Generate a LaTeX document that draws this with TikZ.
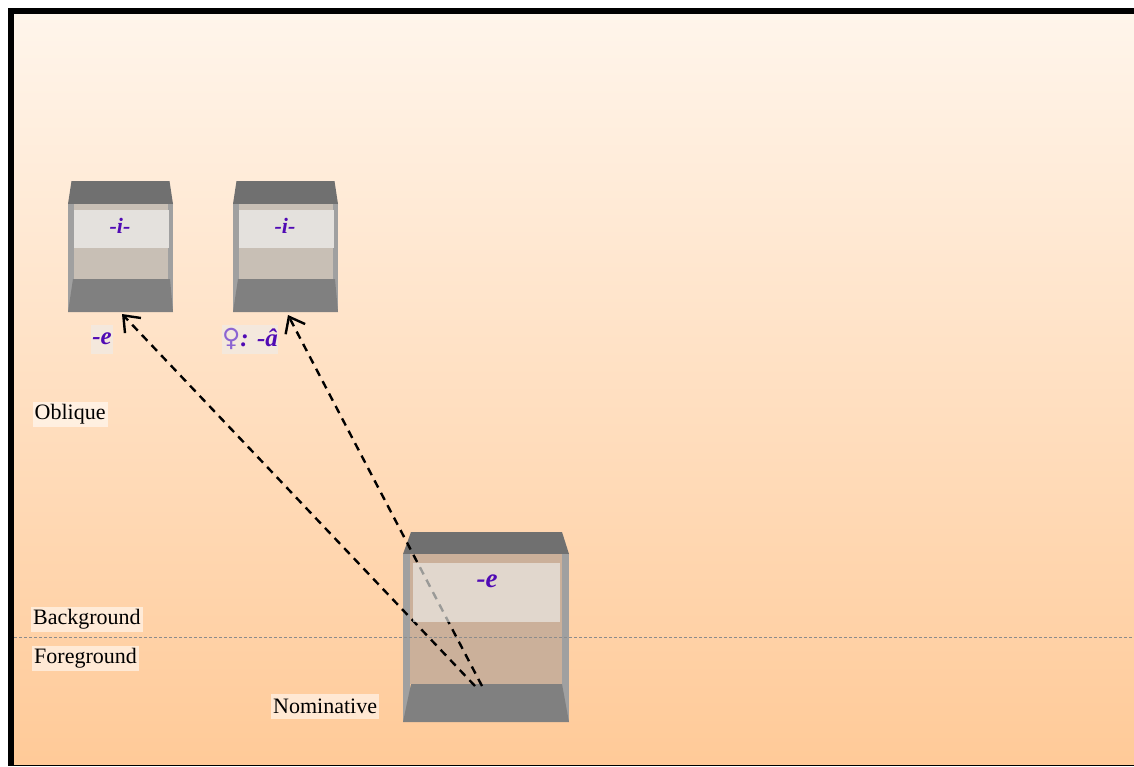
\documentclass[tikz,border=0pt]{standalone}
\usepackage{fontspec}
\setmainfont{Liberation Serif}
\newfontfamily\symfont{DejaVu Sans}
\usetikzlibrary{arrows.meta}
\definecolor{bgtop}{RGB}{255,245,235}
\definecolor{bgbot}{RGB}{255,202,152}
\definecolor{purp}{RGB}{80,10,180}
\definecolor{lpurp}{RGB}{140,100,210}
\definecolor{capgray}{RGB}{112,112,112}
\definecolor{basegray}{RGB}{128,128,128}
\definecolor{wallgray}{RGB}{160,160,160}
\definecolor{beigeS}{RGB}{200,191,181}
\definecolor{panelS}{RGB}{228,225,221}
\definecolor{beigeB}{RGB}{203,176,154}
\definecolor{panelB}{RGB}{238,237,233}
\definecolor{tagfill}{RGB}{238,236,236}
\definecolor{dotgray}{RGB}{140,140,140}
\newcommand\smallcube[2]{%
  \begin{scope}[shift={(#1,0)}]
    \fill[capgray] (3.5,181) -- (101.5,181) -- (105,204) -- (0,204) -- cycle;
    \fill[wallgray] (0,204) rectangle (6,312);
    \fill[wallgray] (100,204) rectangle (105,312);
    \fill[beigeS] (6,204) rectangle (100,279);
    \fill[panelS] (6,210) rectangle (100.5,248);
    \fill[basegray] (5,279) -- (102,279) -- (105,312) -- (0,312) -- cycle;
    \node[morph, font=\morphsmall] (#2) at (52,226) {-i-};
  \end{scope}}
\newcommand\morphsmall{\fontsize{22}{26}\selectfont\bfseries\itshape}
\newcommand\morphmid{\fontsize{25}{29}\selectfont\bfseries\itshape}
\newcommand\morphbig{\fontsize{27}{31}\selectfont\bfseries\itshape}
\begin{document}
\begin{tikzpicture}[x=1pt,y=-1pt,
  lab/.style={anchor=west, fill=white, fill opacity=0.55, text opacity=1,
    inner xsep=2pt, inner ysep=0pt, minimum height=25pt,
    font=\fontsize{22}{25}\selectfont},
  morph/.style={text=purp, inner sep=0pt},
  tag/.style={fill=tagfill, fill opacity=0.6, text opacity=1, inner sep=0pt,
    minimum height=29pt, text=purp, font=\morphmid},
  darr/.style={draw=black, line width=2.4pt, dash pattern=on 8pt off 6pt,
    -{Straight Barb[length=14pt,width=22pt]}}]
\useasboundingbox (0,0) rectangle (1134,766);
% frame and background
\fill[white] (0,0) rectangle (1134,766);
\fill[black] (8,8) rectangle (1134,766);
\shade[top color=bgtop, bottom color=bgbot] (14,14) rectangle (1134,764);
% small cubes
\smallcube{68}{iA}
\smallcube{233}{iB}
% big cube
\fill[capgray] (411,532) -- (562,532) -- (569,554) -- (403,554) -- cycle;
\fill[wallgray] (403,554) rectangle (410,722);
\fill[wallgray] (562,554) rectangle (569,722);
\fill[beigeB] (410,554) rectangle (562,684);
\fill[basegray] (411,684) -- (562,684) -- (569,722) -- (403,722) -- cycle;
% connectors
\coordinate (nomA) at (475,686);
\coordinate (nomB) at (482,686);
\coordinate (oblA) at (122,314);
\coordinate (oblB) at (288,315);
\draw[darr] (nomA) -- (oblA);
\draw[darr] (nomB) -- (oblB);
% front panel of big cube
\fill[panelB, fill opacity=0.65] (413,563) rectangle (560,622);
\node[morph, font=\morphbig] (eN) at (487,581) {-e};
% layer line
\draw[dotgray, line width=1.2pt, dash pattern=on 3pt off 2pt] (14,637.5) -- (1134,637.5);
% labels
\node[lab] (obl) at (32.5,414) {Oblique};
\node[lab] (bgl) at (31,619) {\raisebox{-1.5pt}{Background}\hspace{8pt}};
\node[lab] (fgl) at (32,658) {\raisebox{-1.5pt}{Foreground}\hspace{4pt}};
\node[lab] (nom) at (271,706) {Nominative};
\node[tag, minimum width=22pt] (tagE) at (102,339) {-e};
\node[tag, minimum width=56pt] (tagA) at (250,339)
  {{\fontseries{m}\fontshape{n}\symfont\color{lpurp}♀}: -â};
\end{tikzpicture}
\end{document}
